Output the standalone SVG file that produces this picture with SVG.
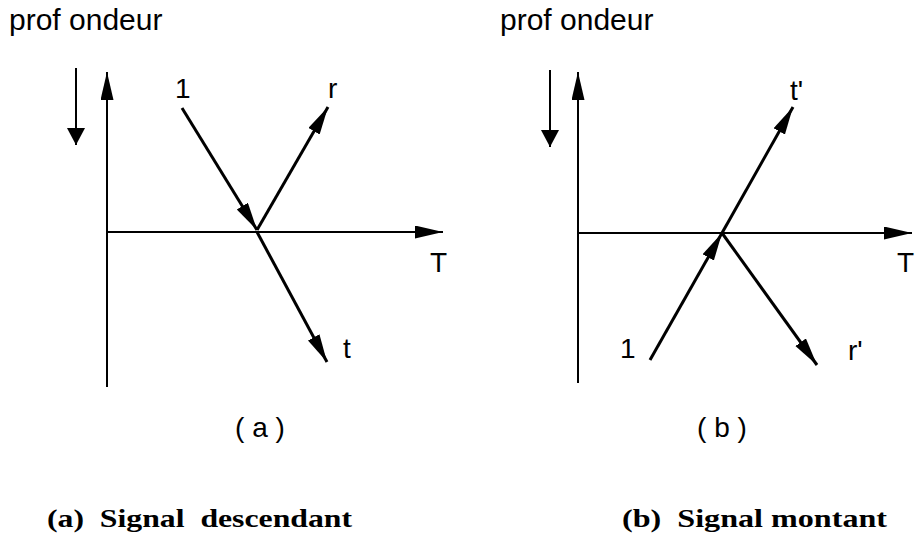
<svg xmlns="http://www.w3.org/2000/svg" width="915" height="538" viewBox="0 0 915 538">
<style>
.ax{stroke:#000;stroke-width:2;fill:none}
.ray{stroke:#000;stroke-width:3;fill:none}
.lbl{font-family:"Liberation Sans",Arial,sans-serif;font-size:28px;fill:#000}
.ttl{font-family:"Liberation Sans",Arial,sans-serif;font-size:30px;fill:#000}
.cap{font-family:"Liberation Serif","Times New Roman",serif;font-size:26px;font-weight:bold;fill:#000}
</style>
<defs>
<marker id="ah" markerUnits="userSpaceOnUse" markerWidth="30" markerHeight="14" refX="28" refY="6.5" orient="auto"><path d="M0,0 L28,6.5 L0,13 z" fill="#000"/></marker>
<marker id="ahd" markerUnits="userSpaceOnUse" markerWidth="20" markerHeight="20" refX="17" refY="9" orient="auto"><path d="M0,0 L17,9 L0,18 z" fill="#000"/></marker>
</defs>
<g id="panel-a">
<text class="ttl" x="9" y="30">prof ondeur</text>
<text class="lbl" x="175" y="98">1</text>
<text class="lbl" x="328" y="98">r</text>
<text class="lbl" x="430" y="272">T</text>
<text class="lbl" x="343" y="358">t</text>
<text class="lbl" x="260" y="437" text-anchor="middle" xml:space="preserve">( a )</text>
</g>
<g id="panel-b">
<text class="ttl" x="500" y="30">prof ondeur</text>
<text class="lbl" x="790" y="100">t'</text>
<text class="lbl" x="897" y="272">T</text>
<text class="lbl" x="620" y="358">1</text>
<text class="lbl" x="848" y="360">r'</text>
<text class="lbl" x="722" y="437" text-anchor="middle" xml:space="preserve">( b )</text>
</g>
<g id="captions">
<text class="cap" x="47" y="527" textLength="305" lengthAdjust="spacingAndGlyphs" xml:space="preserve">(a)  Signal  descendant</text>
<text class="cap" x="622" y="527" textLength="265" lengthAdjust="spacingAndGlyphs" xml:space="preserve">(b)  Signal montant</text>
</g>
<g id="connectors">
<line class="ax" x1="76" y1="68" x2="76" y2="145" marker-end="url(#ahd)"/>
<line class="ax" x1="107" y1="387" x2="107" y2="72" marker-end="url(#ah)"/>
<line class="ax" x1="107" y1="232" x2="443" y2="232" marker-end="url(#ah)"/>
<line class="ray" x1="182" y1="108" x2="257" y2="230" marker-end="url(#ah)"/>
<line class="ray" x1="257" y1="230" x2="328" y2="107" marker-end="url(#ah)"/>
<line class="ray" x1="257" y1="232" x2="327" y2="362" marker-end="url(#ah)"/>
<line class="ax" x1="550" y1="70" x2="550" y2="147" marker-end="url(#ahd)"/>
<line class="ax" x1="578" y1="383" x2="578" y2="72" marker-end="url(#ah)"/>
<line class="ax" x1="578" y1="233" x2="912" y2="233" marker-end="url(#ah)"/>
<line class="ray" x1="650" y1="360" x2="722" y2="233" marker-end="url(#ah)"/>
<line class="ray" x1="722" y1="233" x2="793" y2="107" marker-end="url(#ah)"/>
<line class="ray" x1="722" y1="233" x2="817" y2="365" marker-end="url(#ah)"/>
</g>
</svg>
